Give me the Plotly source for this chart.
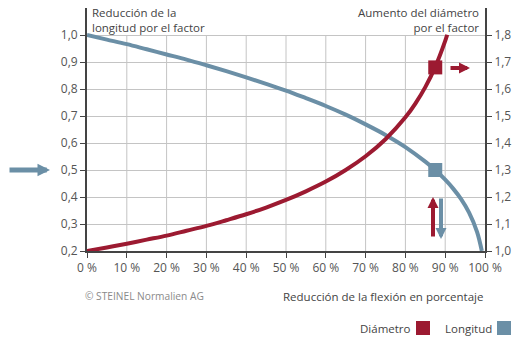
import plotly.graph_objects as go

# ---------------- data ----------------
flex_pct = [0, 5, 10, 15, 20, 25, 30, 35, 40, 45, 50, 55, 60, 65, 70, 75, 80, 85, 87.5, 90, 92, 94, 96, 98, 99.2]
longitud = [1.000, 0.983, 0.966, 0.947, 0.928, 0.909, 0.888, 0.866, 0.843, 0.819, 0.794, 0.766, 0.737,
            0.705, 0.669, 0.630, 0.585, 0.531, 0.500, 0.464, 0.431, 0.392, 0.342, 0.271, 0.200]

diam_pct = [0, 5, 10, 15, 20, 25, 30, 35, 40, 45, 50, 55, 60, 65, 70, 75, 80, 82.5, 85, 87.5, 90, 90.5]
diametro = [1.000, 1.013, 1.027, 1.042, 1.057, 1.075, 1.093, 1.114, 1.136, 1.161, 1.189, 1.221, 1.257,
            1.300, 1.351, 1.414, 1.495, 1.546, 1.607, 1.682, 1.778, 1.801]

marker_pct = [87.5]
marker_long = [0.5]
marker_diam = [1.68]

x_ticks = [0, 10, 20, 30, 40, 50, 60, 70, 80, 90, 100]
x_ticktext = ["0 %", "10 %", "20 %", "30 %", "40 %", "50 %", "60 %", "70 %", "80 %", "90 %", "100 %"]
yl_ticks = [0.2, 0.3, 0.4, 0.5, 0.6, 0.7, 0.8, 0.9, 1.0]
yl_ticktext = ["0,2", "0,3", "0,4", "0,5", "0,6", "0,7", "0,8", "0,9", "1,0"]
yr_ticks = [1.0, 1.1, 1.2, 1.3, 1.4, 1.5, 1.6, 1.7, 1.8]
yr_ticktext = ["1,0", "1,1", "1,2", "1,3", "1,4", "1,5", "1,6", "1,7", "1,8"]

RED = "#9c1a31"
BLUE = "#6b8fa6"
AXIS = "#444444"
GRID = "#c4c4c4"
TXT = "#444444"
FONT = "Open Sans"

# plot area in pixels
L, R, T, B = 87, 485, 8, 251
W, H = 518, 340


def px(x):
    return (x - L) / (R - L)


def py(y):
    return (B - y) / (B - T)


fig = go.Figure()

fig.add_trace(go.Scatter(x=flex_pct, y=longitud, mode="lines", line=dict(color=BLUE, width=4, shape="spline"),
                         yaxis="y", showlegend=False, hoverinfo="skip"))
fig.add_trace(go.Scatter(x=diam_pct, y=diametro, mode="lines", line=dict(color=RED, width=4, shape="spline"),
                         yaxis="y2", showlegend=False, hoverinfo="skip"))
fig.add_trace(go.Scatter(x=marker_pct, y=marker_long, mode="markers",
                         marker=dict(symbol="square", size=14, color=BLUE), yaxis="y", showlegend=False))
fig.add_trace(go.Scatter(x=marker_pct, y=marker_diam, mode="markers",
                         marker=dict(symbol="square", size=14, color=RED), yaxis="y2", showlegend=False))

shapes = []
# vertical grid lines (stop at 1.0)
for xv in x_ticks[1:-1]:
    shapes.append(dict(type="line", xref="x", yref="y", x0=xv, x1=xv, y0=0.2, y1=1.0,
                       line=dict(color=GRID, width=1), layer="below"))
# legend squares
shapes.append(dict(type="rect", xref="paper", yref="paper", x0=px(416), x1=px(430), y0=py(335), y1=py(321),
                   fillcolor=RED, line=dict(width=0)))
shapes.append(dict(type="rect", xref="paper", yref="paper", x0=px(497), x1=px(511), y0=py(335), y1=py(321),
                   fillcolor=BLUE, line=dict(width=0)))

annotations = []


def text(x, y, s, anchor="left", color=TXT, size=11.5, align="left"):
    annotations.append(dict(x=px(x), y=py(y), xref="paper", yref="paper", text=s, showarrow=False,
                            xanchor=anchor, yanchor="middle", align=align,
                            font=dict(family=FONT, size=size, color=color)))


text(90, 20, "Reducción de la<br>longitud por el factor", "left")
text(481, 20, "Aumento del diámetro<br>por el factor", "right", align="right")
text(83, 296, "© STEINEL Normalien AG", "left", color="#8a8a8a", size=10.2)
text(485, 296, "Reducción de la flexión en porcentaje", "right")
text(413, 328, "Diámetro", "right")
text(494, 328, "Longitud", "right")


def arrow(xt, yt, ax, ay, color, width=5, size=0.5):
    annotations.append(dict(x=px(xt), y=py(yt), xref="paper", yref="paper", ax=ax, ay=ay,
                            axref="pixel", ayref="pixel", showarrow=True, text="",
                            arrowhead=2, arrowsize=size, arrowwidth=width, arrowcolor=color, standoff=0))


arrow(50, 170, -42, 0, BLUE, 5, 0.5)
arrow(470, 68, -21, 0, RED, 4, 0.55)
arrow(433, 197, 0, 41, RED, 4, 0.55)
arrow(441, 239, 0, -42, BLUE, 4, 0.55)

fig.update_layout(
    width=W, height=H,
    margin=dict(l=L, r=W - R, t=T, b=H - B),
    paper_bgcolor="white", plot_bgcolor="white",
    font=dict(family=FONT, size=12, color="#555555"),
    shapes=shapes, annotations=annotations,
    xaxis=dict(range=[0, 100], tickvals=x_ticks, ticktext=x_ticktext, showgrid=False, zeroline=False,
               showline=True, linecolor=AXIS, linewidth=2, ticks="outside", ticklen=5, tickcolor=AXIS,
               tickwidth=1, fixedrange=True),
    yaxis=dict(range=[0.2, 1.1], tickvals=yl_ticks, ticktext=yl_ticktext, showgrid=True, gridcolor=GRID,
               gridwidth=1, zeroline=False, showline=True, linecolor=AXIS, linewidth=2, ticks="outside",
               ticklen=5, tickcolor=AXIS, tickwidth=1),
    yaxis2=dict(range=[1.0, 1.9], tickvals=yr_ticks, ticktext=yr_ticktext, overlaying="y", side="right",
                showgrid=False, zeroline=False, showline=True, linecolor=AXIS, linewidth=2, ticks="outside",
                ticklen=5, tickcolor=AXIS, tickwidth=1),
)

fig.write_html("out.html")
